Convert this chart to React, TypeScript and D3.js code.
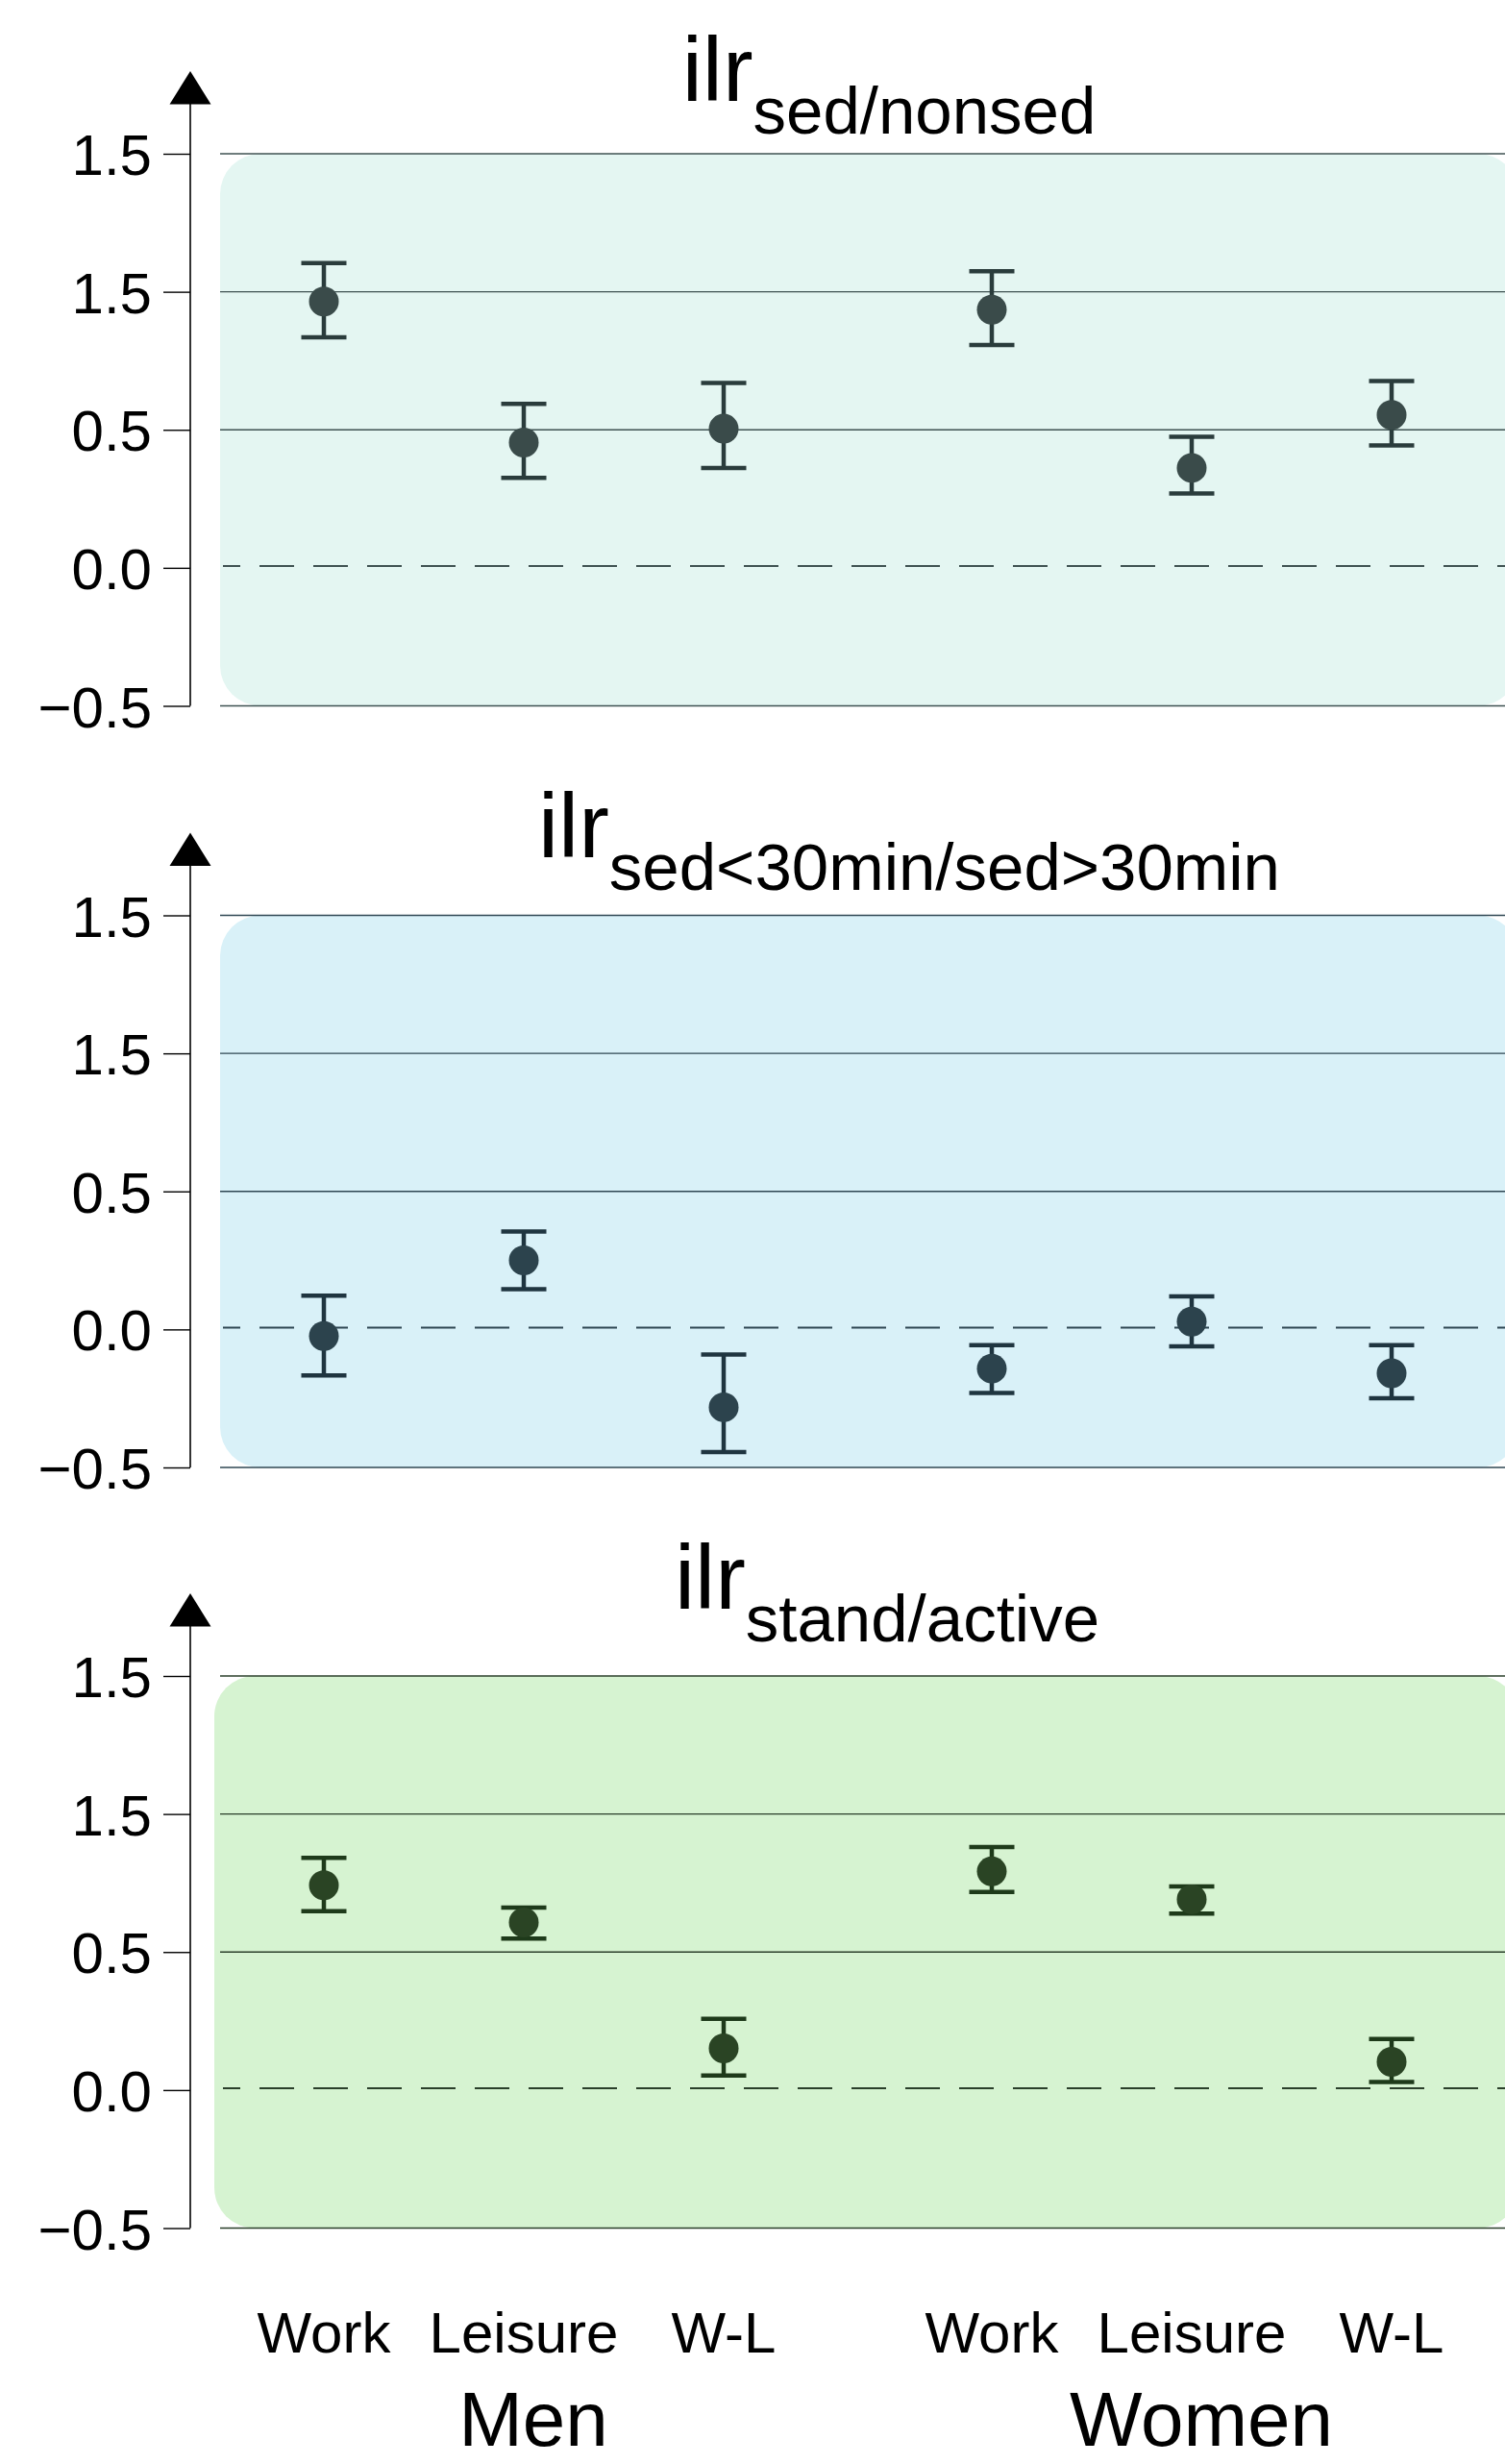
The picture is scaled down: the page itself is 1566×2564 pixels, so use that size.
import { useEffect, useRef } from "react";
import * as d3 from "d3";

// categories and groups
const categories = ["Work", "Leisure", "W-L"];
const groups = ["Men", "Women"];

// y tick values and the labels printed on them (as in the original figure)
const tickValues = [1.5, 1.0, 0.5, 0.0, -0.5];
const tickLabels = ["1.5", "1.5", "0.5", "0.0", "\u22120.5"];

// panel titles (ilr subscripts)
const panelSubscripts = ["sed/nonsed", "sed<30min/sed>30min", "stand/active"];

// estimates and 95% CI, order: Men Work, Leisure, W-L, Women Work, Leisure, W-L
const sedNonsedEst = [0.965, 0.454, 0.504, 0.935, 0.362, 0.554];
const sedNonsedLo = [0.835, 0.326, 0.362, 0.807, 0.269, 0.443];
const sedNonsedHi = [1.104, 0.594, 0.67, 1.074, 0.475, 0.677];

const sed30Est = [-0.024, 0.25, -0.282, -0.142, 0.028, -0.159];
const sed30Lo = [-0.167, 0.146, -0.444, -0.23, -0.061, -0.249];
const sed30Hi = [0.122, 0.355, -0.091, -0.057, 0.12, -0.057];

const standActiveEst = [0.742, 0.607, 0.151, 0.792, 0.691, 0.102];
const standActiveLo = [0.648, 0.549, 0.053, 0.718, 0.639, 0.029];
const standActiveHi = [0.841, 0.661, 0.258, 0.88, 0.738, 0.185];

const FONT = "'Liberation Sans', Arial, Helvetica, sans-serif";

const App = () => {
    const ref = useRef(null);

    useEffect(() => {
        const root = d3.select(ref.current);
        root.selectAll("*").remove();

        const axisX = 198;
        const plotLeft = 229;
        const plotRight = 1566;

        const panels = [
            { est: sedNonsedEst, lo: sedNonsedLo, hi: sedNonsedHi, top: 160, titleX: 925, titleY: 104.5,
              bg: "#e4f6f2", dot: "#3a4b4a", bar: "#2a3c3c", grid: "#3f5252", rectLeft: 229 },
            { est: sed30Est, lo: sed30Lo, hi: sed30Hi, top: 952.5, titleX: 946, titleY: 892,
              bg: "#d9f1f8", dot: "#2c434d", bar: "#1f3540", grid: "#2f4753", rectLeft: 229 },
            { est: standActiveEst, lo: standActiveLo, hi: standActiveHi, top: 1744, titleX: 923, titleY: 1674,
              bg: "#d6f3d1", dot: "#2a4424", bar: "#1e3a1a", grid: "#2a3f2a", rectLeft: 223 },
        ];
        const panelHeight = 574.5;

        // x: outer point scale for sex, inner for domain
        const xGroup = d3.scalePoint().domain(groups).range([545, 1240]);
        const xInner = d3.scalePoint().domain(categories).range([-208, 208]);

        const rows = [];
        groups.forEach((g) => categories.forEach((c) => rows.push({ g, c })));
        const xPos = (i) => xGroup(rows[i].g) + xInner(rows[i].c);

        panels.forEach((p, pi) => {
            const y = d3.scaleLinear().domain([1.5, -0.5]).range([p.top, p.top + panelHeight]);
            const g = root.append("g");

            // background
            g.append("rect")
                .attr("x", p.rectLeft)
                .attr("y", y(1.5))
                .attr("width", 1580 - p.rectLeft)
                .attr("height", y(-0.5) - y(1.5))
                .attr("rx", 42)
                .attr("ry", 42)
                .attr("fill", p.bg);

            // grid lines
            g.selectAll(".grid")
                .data(tickValues.filter((v) => v !== 0))
                .enter()
                .append("line")
                .attr("x1", plotLeft)
                .attr("x2", plotRight)
                .attr("y1", (d) => y(d))
                .attr("y2", (d) => y(d))
                .attr("stroke", p.grid)
                .attr("stroke-width", 1.4);

            // zero line, dashed
            g.append("line")
                .attr("x1", 232)
                .attr("x2", plotRight)
                .attr("y1", y(0) - 2)
                .attr("y2", y(0) - 2)
                .attr("stroke", p.grid)
                .attr("stroke-width", 2)
                .attr("stroke-dasharray", "36 20")
                .attr("stroke-dashoffset", 18);

            // y axis
            const axis = g.append("g")
                .attr("transform", `translate(${axisX},0)`)
                .call(
                    d3.axisLeft(y)
                        .tickValues(tickValues)
                        .tickFormat((d, i) => tickLabels[i])
                        .tickSize(28)
                        .tickSizeOuter(0)
                        .tickPadding(12)
                );
            axis.select(".domain").remove();
            axis.selectAll(".tick line").attr("stroke", "#000").attr("stroke-width", 1.4);
            axis.selectAll(".tick text")
                .attr("fill", "#000")
                .attr("font-family", FONT)
                .attr("font-size", 60)
                .attr("dy", "0.36em");

            g.append("line")
                .attr("x1", axisX)
                .attr("x2", axisX)
                .attr("y1", p.top - 54)
                .attr("y2", y(-0.5))
                .attr("stroke", "#000")
                .attr("stroke-width", 1.6);

            g.append("path")
                .attr("d", d3.line()([
                    [axisX, p.top - 86],
                    [axisX - 21.5, p.top - 51.5],
                    [axisX + 21.5, p.top - 51.5],
                ]) + "Z")
                .attr("fill", "#000");

            // title
            const title = g.append("text")
                .attr("x", p.titleX)
                .attr("y", p.titleY)
                .attr("text-anchor", "middle")
                .attr("font-family", FONT)
                .attr("fill", "#000");
            title.append("tspan").attr("font-size", 95).text("ilr");
            title.append("tspan").attr("font-size", 69).attr("dy", 34).text(panelSubscripts[pi]);

            // error bars
            const idx = d3.range(p.est.length);
            g.selectAll(".stem")
                .data(idx)
                .enter()
                .append("line")
                .attr("x1", (i) => xPos(i))
                .attr("x2", (i) => xPos(i))
                .attr("y1", (i) => y(p.hi[i]))
                .attr("y2", (i) => y(p.lo[i]))
                .attr("stroke", p.bar)
                .attr("stroke-width", 4.5);

            ["hi", "lo"].forEach((k) => {
                g.selectAll(".cap-" + k)
                    .data(idx)
                    .enter()
                    .append("line")
                    .attr("x1", (i) => xPos(i) - 23.5)
                    .attr("x2", (i) => xPos(i) + 23.5)
                    .attr("y1", (i) => y(p[k][i]))
                    .attr("y2", (i) => y(p[k][i]))
                    .attr("stroke", p.bar)
                    .attr("stroke-width", 4.5);
            });

            g.selectAll(".dot")
                .data(idx)
                .enter()
                .append("circle")
                .attr("cx", (i) => xPos(i))
                .attr("cy", (i) => y(p.est[i]))
                .attr("r", 15.5)
                .attr("fill", p.dot);
        });

        // x labels under the last panel
        root.selectAll(".xlab")
            .data(d3.range(rows.length))
            .enter()
            .append("text")
            .attr("x", (i) => xPos(i))
            .attr("y", 2448)
            .attr("text-anchor", "middle")
            .attr("font-family", FONT)
            .attr("font-size", 60)
            .attr("fill", "#000")
            .text((i) => rows[i].c);

        // group labels, kept inside the picture
        root.selectAll(".glab")
            .data(groups)
            .enter()
            .append("text")
            .attr("x", (d) => xGroup(d) + 10)
            .attr("y", 2545)
            .attr("text-anchor", "middle")
            .attr("font-family", FONT)
            .attr("font-size", 80)
            .attr("fill", "#000")
            .text((d) => d);
    }, []);

    return (
        <svg
            ref={ref}
            width={1566}
            height={2564}
            style={{ position: "absolute", left: 0, top: 0, display: "block", background: "#fff" }}
        />
    );
};

export default App;
